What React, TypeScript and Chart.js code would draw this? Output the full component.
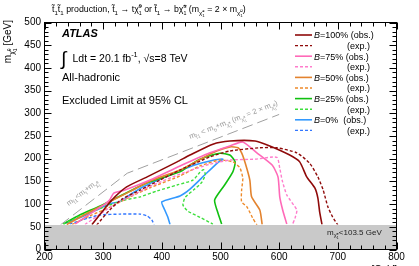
import React, { useEffect, useRef } from "react";
import { Chart, registerables } from "chart.js";
Chart.register(...registerables);

// ---------- data ----------
const xTicks = [200, 300, 400, 500, 600, 700, 800];
const yTicks = [0, 50, 100, 150, 200, 250, 300, 350, 400, 450, 500];
const bandTop = 54;

const kinX = [227, 341, 600];
const kinY = [54, 168, 297.5];

const b100ObsX = [281, 303, 320, 340, 375, 426, 448, 487, 516, 559, 584, 618, 635, 647, 661, 666, 669, 673];
const b100ObsY = [55, 91, 116, 138, 160, 193, 208, 232, 239, 239, 228, 208, 193, 160, 135, 113, 83, 55];
const b100ExpX = [289, 311, 332, 363, 397, 431, 482, 516, 567, 596, 630, 652, 666, 675, 683, 691, 700];
const b100ExpY = [54, 87, 111, 131, 153, 175, 204, 217, 224, 224, 213, 190, 160, 131, 94, 72, 54];

const b75ObsX = [252, 277, 303, 311, 318, 337, 380, 431, 482, 516, 538, 562, 588, 598, 601, 606, 613];
const b75ObsY = [56, 78, 100, 109, 124, 131, 153, 184, 213, 228, 237, 213, 186, 160, 116, 87, 56];
const b75ExpX = [269, 295, 320, 346, 380, 431, 482, 516, 559, 596, 601, 605, 613, 630, 627, 623];
const b75ExpY = [55, 78, 100, 117, 139, 166, 188, 197, 199, 203, 179, 153, 120, 87, 69, 56];

const b50ObsX = [238, 269, 303, 346, 380, 431, 487, 516, 530, 536, 542, 550, 553, 567, 571];
const b50ObsY = [55, 77, 100, 128, 151, 175, 213, 226, 224, 213, 191, 153, 116, 87, 55];
const b50ExpX = [247, 277, 311, 346, 380, 431, 465, 499, 521, 533, 538, 536, 536, 545, 555, 562];
const b50ExpY = [55, 74, 93, 116, 136, 162, 184, 197, 193, 180, 157, 131, 105, 94, 69, 54];

const b25ObsX = [232, 260, 295, 346, 380, 431, 448, 465, 499, 516, 525, 521, 507, 490, 495, 502];
const b25ObsY = [56, 76, 96, 129, 149, 171, 186, 199, 212, 208, 193, 171, 142, 109, 83, 56];
const b25ExpX = [232, 266, 311, 337, 363, 392, 426, 453, 465, 471, 474, 468, 455, 440, 436, 445, 465, 487];
const b25ExpY = [56, 76, 98, 109, 116, 129, 142, 153, 170, 176, 165, 148, 132, 115, 98, 84, 71, 56];

const b0ObsX = [235, 264, 295, 312, 329, 351, 371, 414, 456, 482, 504, 495, 473, 448, 431, 400, 405, 410, 414];
const b0ObsY = [58, 72, 91, 101, 106, 125, 140, 164, 186, 195, 199, 191, 164, 133, 118, 105, 87, 72, 55];
const b0ExpX = [243, 274, 295, 329, 363, 375, 383, 387];
const b0ExpY = [56, 69, 76, 78, 78, 74, 65, 54];

const legendObs = ["=100% (obs.)", "=75% (obs.)", "=50% (obs.)", "=25% (obs.)", "=0%  (obs.)"];
const legendExp = "(exp.)";

// ---------- styling ----------
const FONT = '"Liberation Sans", Arial, Helvetica, sans-serif';
const series = [
  { obsX: b100ObsX, obsY: b100ObsY, expX: b100ExpX, expY: b100ExpY, obsC: "#8f0a0a", expC: "#8f0a0a" },
  { obsX: b75ObsX, obsY: b75ObsY, expX: b75ExpX, expY: b75ExpY, obsC: "#ff69b8", expC: "#ff7ccc" },
  { obsX: b50ObsX, obsY: b50ObsY, expX: b50ExpX, expY: b50ExpY, obsC: "#e3832e", expC: "#ee8a2a" },
  { obsX: b25ObsX, obsY: b25ObsY, expX: b25ExpX, expY: b25ExpY, obsC: "#10c010", expC: "#3ddf3d" },
  { obsX: b0ObsX, obsY: b0ObsY, expX: b0ExpX, expY: b0ExpY, obsC: "#3399ff", expC: "#3377ff" },
];
const OBS_W = 1.6;
const EXP_W = 1.4;
const EXP_DASH = [3, 2];

const pts = (xs: number[], ys: number[]) => xs.map((x, i) => ({ x, y: ys[i] }));

// ---------- rich text ----------
type Seg = { t: string; s?: number; dy?: number; st?: string; stack?: boolean };
const T = "t\u0303";
const CHI = "\u03c7\u0303";
const n = (t: string, st?: string): Seg => ({ t, st });
const sub = (t: string): Seg => ({ t, s: 0.7, dy: 0.3 });
const supS = (t: string): Seg => ({ t, s: 0.6, dy: -0.4 });
const subS = (t: string): Seg => ({ t, s: 0.6, dy: 0.3, stack: true });
const chiSub = (top: string): Seg[] => [
  { t: CHI, s: 0.7, dy: 0.3 },
  { t: top, s: 0.5, dy: 0.0 },
  { t: "1", s: 0.5, dy: 0.55, stack: true },
];

function drawRich(ctx: CanvasRenderingContext2D, segs: Seg[], x: number, y: number, size: number, align = "left", color = "#000") {
  let cursor = 0;
  let prevStart = 0;
  const items: { t: string; font: string; sx: number; dy: number }[] = [];
  for (const sg of segs) {
    const fs = size * (sg.s ?? 1);
    const font = `${sg.st ?? "normal"} ${fs}px ${FONT}`;
    ctx.font = font;
    const w = ctx.measureText(sg.t).width;
    const sx = sg.stack ? prevStart : cursor;
    items.push({ t: sg.t, font, sx, dy: (sg.dy ?? 0) * size });
    cursor = Math.max(cursor, sx + w);
    prevStart = sx;
  }
  const x0 = align === "right" ? x - cursor : align === "center" ? x - cursor / 2 : x;
  ctx.fillStyle = color;
  ctx.textAlign = "left";
  ctx.textBaseline = "alphabetic";
  for (const it of items) {
    ctx.font = it.font;
    ctx.fillText(it.t, x0 + it.sx, y + it.dy);
  }
  return cursor;
}

const titleSegs: Seg[] = [
  n(T), sub("1"), n(T), sub("1"), n(" production, "), n(T), sub("1"), n(" \u2192 t"), n(CHI), supS("0"), subS("1"),
  n(" or "), n(T), sub("1"), n(" \u2192 b"), n(CHI), supS("\u00b1"), subS("1"), n(" (m"), ...chiSub("\u00b1"),
  n(" = 2 \u00d7 m"), ...chiSub("0"), n(")"),
];

const decor = {
  id: "decor",
  afterDatasetsDraw(chart: any) {
    const { ctx, chartArea: ca, scales } = chart;
    const xs = scales.x;
    const ys = scales.y;
    ctx.save();

    // band label
    drawRich(ctx, [n("m"), { t: CHI, s: 0.7, dy: 0.3 }, { t: "\u00b1", s: 0.5, dy: 0 }, { t: "1", s: 0.5, dy: 0.55, stack: true }, n("<103.5 GeV")],
      327, 235, 8, "left", "#222");

    // kinematic labels
    const kinLabel = (segs: Seg[], lx: number, ly: number, i0: number, i1: number) => {
      const ax = xs.getPixelForValue(kinX[i0]), ay = ys.getPixelForValue(kinY[i0]);
      const bx = xs.getPixelForValue(kinX[i1]), by = ys.getPixelForValue(kinY[i1]);
      const ang = Math.atan2(by - ay, bx - ax);
      ctx.save();
      ctx.translate(xs.getPixelForValue(lx), ys.getPixelForValue(ly));
      ctx.rotate(ang);
      drawRich(ctx, segs, 0, 2, 7.5, "center", "#9a9a9a");
      ctx.restore();
    };
    kinLabel([n("m"), sub(T + "1"), n("<m"), sub("t"), n("+m"), ...chiSub("0")], 265, 125, 0, 1);
    kinLabel([n("m"), sub(T + "1"), n(" < m"), sub("b"), n("+m"), ...chiSub("\u00b1"), n(" (m"), ...chiSub("\u00b1"), n(" = 2 \u00d7 m"), ...chiSub("0"), n(")")], 522, 285, 1, 2);

    // frame
    ctx.strokeStyle = "#000";
    ctx.lineWidth = 1;
    ctx.setLineDash([]);
    ctx.strokeRect(ca.left, ca.top, ca.right - ca.left, ca.bottom - ca.top);

    // ticks
    ctx.beginPath();
    for (let i = 0; i < xTicks.length; i++) {
      const v = xTicks[i];
      const px = Math.round(xs.getPixelForValue(v)) + 0.5;
      ctx.moveTo(px, ca.bottom); ctx.lineTo(px, ca.bottom - 7);
      ctx.moveTo(px, ca.top); ctx.lineTo(px, ca.top + 7);
      if (i < xTicks.length - 1) {
        const step = (xTicks[i + 1] - v) / 5;
        for (let k = 1; k < 5; k++) {
          const mx = Math.round(xs.getPixelForValue(v + k * step)) + 0.5;
          ctx.moveTo(mx, ca.bottom); ctx.lineTo(mx, ca.bottom - 4);
          ctx.moveTo(mx, ca.top); ctx.lineTo(mx, ca.top + 4);
        }
      }
    }
    for (let i = 0; i < yTicks.length; i++) {
      const v = yTicks[i];
      const py = Math.round(ys.getPixelForValue(v)) + 0.5;
      ctx.moveTo(ca.left, py); ctx.lineTo(ca.left + 7, py);
      ctx.moveTo(ca.right, py); ctx.lineTo(ca.right - 7, py);
      if (i < yTicks.length - 1) {
        const step = (yTicks[i + 1] - v) / 5;
        for (let k = 1; k < 5; k++) {
          const my = Math.round(ys.getPixelForValue(v + k * step)) + 0.5;
          ctx.moveTo(ca.left, my); ctx.lineTo(ca.left + 4, my);
          ctx.moveTo(ca.right, my); ctx.lineTo(ca.right - 4, my);
        }
      }
    }
    ctx.stroke();

    // tick labels
    ctx.fillStyle = "#000";
    ctx.font = `10px ${FONT}`;
    ctx.textAlign = "center";
    ctx.textBaseline = "alphabetic";
    for (const v of xTicks) ctx.fillText(String(v), xs.getPixelForValue(v), 259.5);
    ctx.textAlign = "right";
    ctx.textBaseline = "middle";
    for (const v of yTicks) ctx.fillText(String(v), 41, ys.getPixelForValue(v));

    // axis titles
    ctx.save();
    ctx.translate(11, 20);
    ctx.rotate(-Math.PI / 2);
    drawRich(ctx, [n("m"), ...chiSub("0"), n(" [GeV]")], 0, 0, 10, "right");
    ctx.restore();
    drawRich(ctx, [n("m"), sub(T + "1"), n(" [GeV]")], 397, 273, 10, "right");

    // title
    drawRich(ctx, titleSegs, 52, 12, 8.8, "left");

    // ATLAS texts
    drawRich(ctx, [n("ATLAS", "italic bold")], 62, 37.3, 11);
    ctx.font = `19px ${FONT}`;
    ctx.fillStyle = "#000";
    ctx.textAlign = "left";
    ctx.textBaseline = "alphabetic";
    ctx.fillText("\u222b", 61, 65);
    drawRich(ctx, [n("Ldt = 20.1 fb"), { t: "-1", s: 0.7, dy: -0.4 }, n(", \u221as=8 TeV")], 72.5, 61.5, 10.5);
    drawRich(ctx, [n("All-hadronic")], 62, 80.7, 11);
    drawRich(ctx, [n("Excluded Limit at 95% CL")], 62, 104, 11);

    // legend
    const y0 = 35;
    const dyRow = 10.6;
    series.forEach((s, i) => {
      const yo = y0 + i * 2 * dyRow;
      const ye = yo + dyRow;
      ctx.lineWidth = OBS_W;
      ctx.strokeStyle = s.obsC;
      ctx.setLineDash([]);
      ctx.beginPath(); ctx.moveTo(295, yo); ctx.lineTo(312, yo); ctx.stroke();
      ctx.lineWidth = EXP_W;
      ctx.strokeStyle = s.expC;
      ctx.setLineDash(EXP_DASH);
      ctx.beginPath(); ctx.moveTo(295, ye); ctx.lineTo(312, ye); ctx.stroke();
      ctx.setLineDash([]);
      drawRich(ctx, [n("B", "italic"), n(legendObs[i])], 314, yo + 3.3, 9);
      drawRich(ctx, [n(legendExp)], 347, ye + 3.3, 9);
    });

    ctx.restore();
  },
};

export default function App() {
  const ref = useRef<HTMLCanvasElement | null>(null);
  useEffect(() => {
    if (!ref.current) return;
    const datasets: any[] = [
      {
        data: pts([xTicks[0], xTicks[xTicks.length - 1]], [bandTop, bandTop]),
        showLine: true, pointRadius: 0, borderWidth: 0, backgroundColor: "#c9c9c9",
        fill: "origin",
      },
      {
        data: pts([xTicks[0], xTicks[xTicks.length - 1]], [bandTop, bandTop]),
        showLine: true, pointRadius: 0, borderWidth: 1, borderColor: "#ffffff", borderDash: [8, 4], fill: false,
      },
      {
        data: pts(kinX, kinY),
        showLine: true, pointRadius: 0, borderWidth: 1, borderColor: "#a0a0a0", borderDash: [11, 5], fill: false,
      },
    ];
    series.forEach((s) => {
      datasets.push({
        data: pts(s.expX, s.expY), showLine: true, pointRadius: 0, borderWidth: EXP_W,
        borderColor: s.expC, borderDash: EXP_DASH, fill: false, tension: 0.2,
      });
      datasets.push({
        data: pts(s.obsX, s.obsY), showLine: true, pointRadius: 0, borderWidth: OBS_W,
        borderColor: s.obsC, fill: false, tension: 0.2,
      });
    });
    const chart = new Chart(ref.current, {
      type: "scatter",
      data: { datasets },
      options: {
        responsive: false,
        animation: false,
        layout: { padding: { left: 44.5, right: 22.5, top: 22.5, bottom: 16.5 } },
        scales: {
          x: { type: "linear", min: xTicks[0], max: xTicks[xTicks.length - 1], display: false },
          y: { type: "linear", min: yTicks[0], max: yTicks[yTicks.length - 1], display: false },
        },
        plugins: { legend: { display: false }, tooltip: { enabled: false } },
      },
      plugins: [decor],
    } as any);
    return () => chart.destroy();
  }, []);
  return (
    <div style={{ position: "absolute", left: 0, top: 0, width: 419, height: 266, background: "#fff" }}>
      <canvas ref={ref} width={419} height={266} style={{ display: "block" }} />
    </div>
  );
}
